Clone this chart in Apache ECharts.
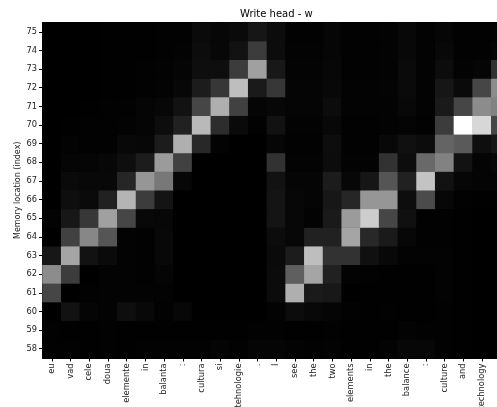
<!DOCTYPE html>
<html><head><meta charset="utf-8">
<style>html,body{margin:0;padding:0;background:#fff}#c{width:497px;height:407px}</style>
<script src="https://cdn.jsdelivr.net/npm/echarts@6/dist/echarts.min.js"></script>
</head><body><div id="c"></div>
<script>
const chartTitle = "Write head - w";
const yName = "Memory location (index)";
const colLabels = ["eu","vad","cele","doua","elemente","in","balanta",":","cultura","si","tehnologie",".","I","see","the","two","elements","in","the","balance",":","culture","and","technology","."];
const rowLabels = ["58","59","60","61","62","63","64","65","66","67","68","69","70","71","72","73","74","75"];
const row75 = [0,0,0,1,1,1,2,2,10,7,10,22,12,2,2,6,2,2,3,8,3,6,2,2,3];
const row74 = [0,0,0,1,1,1,2,3,12,7,18,60,12,3,3,6,2,2,3,8,3,8,2,2,6];
const row73 = [0,0,0,1,1,2,3,5,14,14,60,160,24,4,4,7,2,2,3,10,3,12,3,5,50];
const row72 = [0,0,0,1,1,2,3,7,28,55,190,26,55,5,5,8,3,3,4,10,3,22,10,70,140];
const row71 = [0,0,1,2,2,5,7,18,70,175,65,5,7,5,5,12,3,3,3,8,3,26,70,140,130];
const row70 = [0,1,2,2,3,5,13,33,185,45,10,2,18,3,3,8,2,2,3,4,2,60,255,215,70];
const row69 = [0,3,2,2,8,7,28,175,40,3,0,0,6,2,2,13,2,2,8,16,12,100,90,14,23];
const row68 = [0,5,5,7,14,28,155,65,0,0,0,0,50,3,3,12,3,3,50,13,105,130,18,4,8];
const row67 = [0,10,8,8,38,150,120,7,0,0,0,0,18,5,5,28,7,22,85,33,195,18,6,4,4];
const row66 = [0,14,10,33,180,60,20,0,0,0,0,0,20,7,5,23,38,150,150,13,75,7,2,1,1];
const row65 = [3,23,55,160,70,8,7,0,0,0,0,0,20,7,3,26,155,205,70,16,2,2,1,0,0];
const row64 = [0,65,135,85,3,2,8,0,0,0,0,0,12,7,33,33,165,40,26,7,2,2,1,0,0];
const row63 = [23,165,18,10,3,2,8,0,0,0,0,0,10,28,190,50,50,16,8,3,3,3,1,0,0];
const row62 = [140,60,0,3,3,2,5,0,0,0,0,0,11,95,165,33,3,2,1,1,1,3,1,0,0];
const row61 = [70,0,2,3,3,3,3,0,0,0,0,0,11,175,26,24,0,1,1,1,1,3,1,0,0];
const row60 = [0,18,5,3,14,8,2,7,0,0,0,0,3,12,8,5,2,1,2,1,1,2,1,0,0];
const row59 = [2,1,1,2,1,1,1,1,1,1,1,2,2,1,1,2,1,1,1,3,2,2,1,0,0];
const row58 = [2,2,1,2,1,2,2,2,2,4,2,5,5,3,2,3,1,1,3,7,7,2,1,0,0];
const rows = [row58,row59,row60,row61,row62,row63,row64,row65,row66,row67,row68,row69,row70,row71,row72,row73,row74,row75];
const cells = [];
rows.forEach((r,y)=>r.forEach((v,x)=>cells.push([x,y,v])));
const font = "'DejaVu Sans'";
const chart = echarts.init(document.getElementById('c'),null,{renderer:'canvas'});
chart.setOption({
  animation:false,
  backgroundColor:'#fff',
  title:{text:chartTitle,left:235,top:4,textStyle:{fontFamily:font,fontSize:10,fontWeight:'normal',color:'#000'}},
  grid:{left:42.5,top:22.5,width:467.5,height:335.5,show:true,borderColor:'#000',borderWidth:1,backgroundColor:'#000',containLabel:false,outerBoundsMode:'none'},
  xAxis:{type:'category',data:colLabels,splitArea:{show:false},splitLine:{show:false},
    axisLine:{show:true,lineStyle:{color:'#000',width:1}},
    axisTick:{show:true,alignWithLabel:true,length:3.5,lineStyle:{color:'#000',width:1}},
    axisLabel:{interval:0,rotate:90,margin:5.5,fontFamily:font,fontSize:8.3,color:'#222',hideOverlap:false}},
  yAxis:{type:'category',data:rowLabels,splitArea:{show:false},splitLine:{show:false},
    name:yName,nameLocation:'middle',nameGap:21,nameMoveOverlap:false,nameTextStyle:{fontFamily:font,fontSize:8,color:'#222'},
    axisLine:{show:true,lineStyle:{color:'#000',width:1}},
    axisTick:{show:true,alignWithLabel:true,length:3.5,lineStyle:{color:'#000',width:1}},
    axisLabel:{interval:0,margin:5.5,fontFamily:font,fontSize:8.3,color:'#222'}},
  visualMap:{show:false,min:0,max:255,dimension:2,seriesIndex:0,inRange:{color:['#000000','#ffffff']}},
  series:[{type:'heatmap',data:cells,itemStyle:{borderWidth:0},emphasis:{disabled:true},progressive:0}]
});
</script></body></html>
